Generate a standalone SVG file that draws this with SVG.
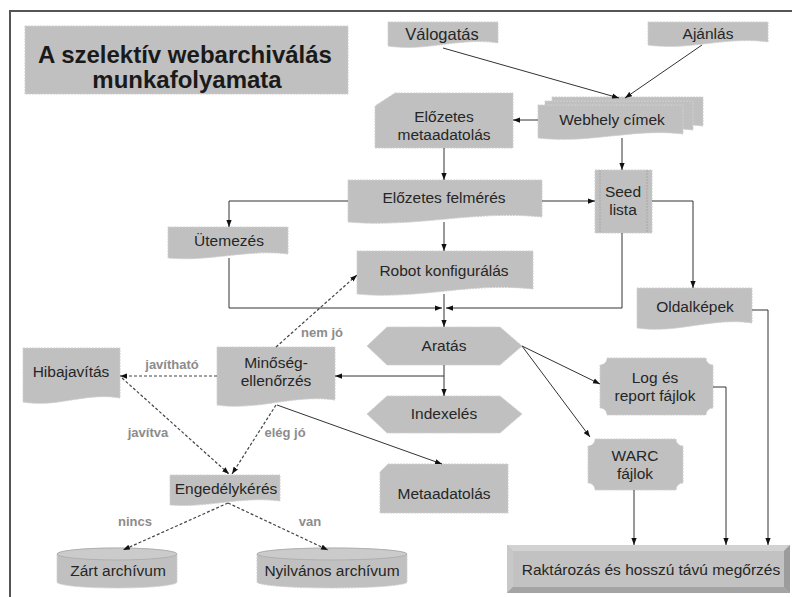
<svg xmlns="http://www.w3.org/2000/svg" width="792" height="597" viewBox="0 0 792 597">
<defs>
<style>
.n{fill:#c0c0c0;stroke:#cfcfcf;stroke-width:1;stroke-dasharray:2 1}
.t{font-family:"Liberation Sans",Arial,sans-serif;font-size:15.5px;fill:#262626;text-anchor:middle}
.lb{font-family:"Liberation Sans",Arial,sans-serif;font-size:13px;font-weight:bold;fill:#8c8c8c;text-anchor:middle}
.c{fill:none;stroke:#333;stroke-width:1;marker-end:url(#arr)}
.d{fill:none;stroke:#444;stroke-width:1.2;stroke-dasharray:3 2;marker-end:url(#arr)}
</style>
<marker id="arr" viewBox="0 0 8 6" refX="8" refY="3" markerWidth="7" markerHeight="6" orient="auto" markerUnits="userSpaceOnUse"><path d="M0,0 L8,3 L0,6 Z" fill="#111"/></marker>
</defs>
<rect width="792" height="597" fill="#fff"/>
<path d="M10,597 V11 H792" fill="none" stroke="#555" stroke-width="2"/>

<g id="title">
<rect x="25" y="26" width="323" height="68" class="n"/>
<text x="185" y="63" class="t" style="font-size:24px;font-weight:bold;fill:#1a1a1a">A szelektív webarchiválás</text>
<text x="187" y="88" class="t" style="font-size:24px;font-weight:bold;fill:#1a1a1a">munkafolyamata</text>
</g>

<g id="valogatas">
<path class="n" d="M388,22 H498 V43 C460,37 426,52 388,46 Z"/>
<text x="442" y="40" class="t" style="font-size:16.5px">Válogatás</text>
</g>
<g id="ajanlas">
<path class="n" d="M648,22 H768 V42 C726,36 690,51 648,45 Z"/>
<text x="708" y="39" class="t">Ajánlás</text>
</g>
<g id="webhely">
<path class="n" d="M552,97 H703 V126 C650,120 605,136 552,130 Z"/>
<path class="n" d="M545,101 H693 V130 C641,124 597,140 545,134 Z"/>
<path class="n" d="M538,105 H683 V134 C634,128 589,144 538,138 Z"/>
<text x="612" y="125" class="t">Webhely címek</text>
</g>
<g id="elozetes-meta">
<path class="n" d="M395,93 H513 V148 H375 V106 Z"/>
<text x="444" y="122" class="t">Előzetes</text>
<text x="444" y="140" class="t">metaadatolás</text>
</g>
<g id="elozetes-felmeres">
<path class="n" d="M348,180 H542 V217 C474,210 416,228 348,222 Z"/>
<text x="444" y="203" class="t">Előzetes felmérés</text>
</g>
<g id="seed">
<rect class="n" x="595" y="170" width="57" height="63"/>
<path d="M600,170 V233 M647,170 V233" stroke="#a8a8a8" stroke-width="1" stroke-dasharray="2 1" fill="none"/>
<text x="623" y="197" class="t">Seed</text>
<text x="623" y="215" class="t">lista</text>
</g>
<g id="utemezes">
<path class="n" d="M168,227 H288 V254 C246,249 210,262 168,258 Z"/>
<text x="229" y="246" class="t">Ütemezés</text>
</g>
<g id="robot">
<path class="n" d="M357,251 H533 V289 C471,282 419,300 357,294 Z"/>
<text x="444" y="276" class="t">Robot konfigurálás</text>
</g>
<g id="oldalkepek">
<path class="n" d="M637,288 H752 V323 C712,317 677,334 637,328 Z"/>
<text x="695" y="312" class="t">Oldalképek</text>
</g>
<g id="aratas">
<polygon class="n" points="367,346 387,327 500,327 522,346 500,365 387,365"/>
<text x="444" y="351" class="t">Aratás</text>
</g>
<g id="indexeles">
<polygon class="n" points="367,414 387,396 500,396 522,414 500,433 387,433"/>
<text x="444" y="419" class="t">Indexelés</text>
</g>
<g id="log">
<path class="n" d="M607,358 H706 A7,7 0 0 0 713,365 V408 A7,7 0 0 0 706,415 H607 A7,7 0 0 0 600,408 V365 A7,7 0 0 0 607,358 Z"/>
<text x="655" y="383" class="t">Log és</text>
<text x="655" y="401" class="t">report fájlok</text>
</g>
<g id="warc">
<path class="n" d="M595,439 H676 A7,7 0 0 0 683,446 V483 A7,7 0 0 0 676,490 H595 A7,7 0 0 0 588,483 V446 A7,7 0 0 0 595,439 Z"/>
<text x="635" y="461" class="t">WARC</text>
<text x="635" y="479" class="t">fájlok</text>
</g>
<g id="minoseg">
<path class="n" d="M217,347 H335 V400 C294,394 258,411 217,405 Z"/>
<text x="276" y="368" class="t">Minőség-</text>
<text x="276" y="386" class="t">ellenőrzés</text>
</g>
<g id="hibajavitas">
<path class="n" d="M23,348 H120 V398 C86,392 57,408 23,402 Z"/>
<text x="71" y="377" class="t">Hibajavítás</text>
</g>
<g id="metaadatolas">
<path class="n" d="M388,464 H508 V513 H380 V472 Z"/>
<text x="444" y="499" class="t">Metaadatolás</text>
</g>
<g id="engedely">
<path class="n" d="M170,475 H280 V501 C241,496 209,508 170,505 Z"/>
<text x="226" y="494" class="t">Engedélykérés</text>
</g>
<g id="zart">
<path class="n" d="M57,554 A60,6 0 0 1 177,554 V582 A60,6 0 0 1 57,582 Z"/>
<ellipse cx="117" cy="554" rx="60" ry="6" fill="#cbcbcb" stroke="#b0b0b0" stroke-width="1"/>
<text x="118" y="576" class="t">Zárt archívum</text>
</g>
<g id="nyilvanos">
<path class="n" d="M257,554 A75,6 0 0 1 407,554 V582 A75,6 0 0 1 257,582 Z"/>
<ellipse cx="332" cy="554" rx="75" ry="6" fill="#cbcbcb" stroke="#b0b0b0" stroke-width="1"/>
<text x="332" y="576" class="t">Nyilvános archívum</text>
</g>
<g id="raktarozas">
<rect x="507" y="545" width="283" height="48" fill="#b4b4b4"/>
<polygon points="507,545 790,545 784,551 513,551" fill="#d2d2d2"/>
<polygon points="507,545 513,551 513,587 507,593" fill="#c8c8c8"/>
<polygon points="790,545 790,593 784,587 784,551" fill="#9c9c9c"/>
<polygon points="507,593 513,587 784,587 790,593" fill="#a4a4a4"/>
<rect x="513" y="551" width="271" height="36" fill="#c2c2c2"/>
<text x="651" y="575" class="t">Raktározás és hosszú távú megőrzés</text>
</g>

<g id="connectors">
<path class="c" d="M443,48 L619,98"/>
<path class="c" d="M702,45 L625,98"/>
<path class="c" d="M538,120 L513,120"/>
<path class="c" d="M622,138 V170"/>
<path class="c" d="M444,148 V180"/>
<path class="c" d="M348,201 H229 V227"/>
<path class="c" d="M444,222 V251"/>
<path class="c" d="M542,201 H595"/>
<path class="c" d="M652,201 H693 V288"/>
<path class="c" d="M229,258 V308 H442"/>
<path class="c" d="M622,233 V308 H446"/>
<path class="c" d="M444,294 V327"/>
<path class="c" d="M444,365 V396"/>
<path class="c" d="M444,376 H335"/>
<path class="c" d="M522,346 L600,384"/>
<path class="c" d="M522,346 L590,437"/>
<path class="c" d="M752,310 H768 V545"/>
<path class="c" d="M713,387 H726 V545"/>
<path class="c" d="M634,490 V545"/>
<path class="c" d="M277,405 L442,464"/>
<path class="d" d="M276,347 L357,275"/>
<path class="d" d="M217,376 L120,376"/>
<path class="d" d="M122,378 L229,474"/>
<path class="d" d="M276,405 L232,474"/>
<path class="d" d="M228,503 L123,550"/>
<path class="d" d="M228,503 L328,550"/>
<text x="322" y="337" class="lb">nem jó</text>
<text x="172" y="369" class="lb">javítható</text>
<text x="148" y="437" class="lb">javítva</text>
<text x="285" y="437" class="lb">elég jó</text>
<text x="135" y="526" class="lb">nincs</text>
<text x="310" y="526" class="lb">van</text>
</g>
</svg>
